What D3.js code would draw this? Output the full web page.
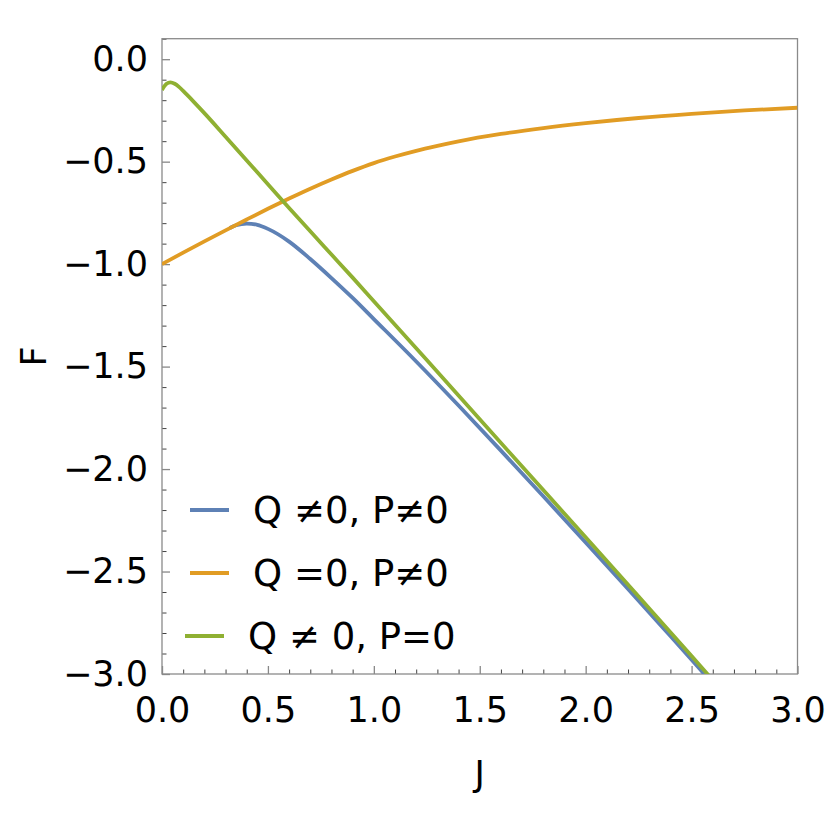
<!DOCTYPE html>
<html>
<head>
<meta charset="utf-8">
<script src="https://cdn.jsdelivr.net/npm/d3@7"></script>
<style>
  body { margin: 0; background: #fff; }
  text { font-family: "DejaVu Sans", sans-serif; fill: #000; }
</style>
</head>
<body>
<div id="chart"></div>
<script>
// values: J on x, F on y
var seriesNames = ["Q \u22600, P\u22600", "Q =0, P\u22600", "Q \u2260 0, P=0"];
var seriesColors = ["#5e81b5", "#e19c24", "#8fb032"];

var blueJ = [0.32, 0.35, 0.4, 0.45, 0.5, 0.6, 0.7, 0.8, 0.9, 1.0, 1.2, 1.4, 1.6, 1.8, 2.0, 2.2, 2.4, 2.6];
var blueF = [-0.824, -0.81, -0.802, -0.808, -0.828, -0.89, -0.975, -1.068, -1.165, -1.268, -1.475, -1.69, -1.91, -2.133, -2.358, -2.585, -2.815, -3.046];

var orangeJ = [0, 0.1, 0.2, 0.3, 0.4, 0.5, 0.6, 0.7, 0.8, 0.9, 1.0, 1.1, 1.2, 1.3, 1.4, 1.6, 1.8, 2.0, 2.25, 2.5, 2.75, 3.0];
var orangeF = [-1.0, -0.944, -0.889, -0.835, -0.782, -0.73, -0.68, -0.632, -0.587, -0.545, -0.507, -0.475, -0.447, -0.423, -0.401, -0.365, -0.336, -0.312, -0.287, -0.267, -0.25, -0.237];

var greenJ = [0, 0.02, 0.04, 0.06, 0.08, 0.1, 0.15, 0.2, 0.3, 0.4, 0.5, 0.6, 0.7, 0.8, 0.9, 1.0, 1.25, 1.5, 1.75, 2.0, 2.25, 2.5, 2.6];
var greenF = [-0.15, -0.121, -0.113, -0.12, -0.135, -0.155, -0.208, -0.263, -0.378, -0.494, -0.61, -0.726, -0.84, -0.953, -1.066, -1.181, -1.468, -1.757, -2.045, -2.333, -2.622, -2.912, -3.03];

var xMajor = [0, 0.5, 1.0, 1.5, 2.0, 2.5, 3.0];
var yMajor = [0, -0.5, -1.0, -1.5, -2.0, -2.5, -3.0];

var W = 830, H = 830;
var box = { left: 162, top: 38.7, right: 797.5, bottom: 674 };

var x = d3.scaleLinear().domain([0, 3]).range([box.left, box.right]);
var y = d3.scaleLinear().domain([-3, 0.1]).range([box.bottom, box.top]);

var svg = d3.select("#chart").append("svg")
	.attr("width", W)
	.attr("height", H);

// minor ticks every 0.1
var xMinor = d3.range(0, 31).map(d => d / 10).filter(d => xMajor.indexOf(d) < 0);
var yMinor = d3.range(-30, 2).map(d => d / 10).filter(d => yMajor.indexOf(d) < 0);

var xMinorAxis = svg.append("g")
	.attr("transform", `translate(0, ${box.bottom})`)
	.call(d3.axisBottom(x).tickValues(xMinor).tickSize(-4.5).tickFormat(""));
var yMinorAxis = svg.append("g")
	.attr("transform", `translate(${box.left}, 0)`)
	.call(d3.axisLeft(y).tickValues(yMinor).tickSize(-4.5).tickFormat(""));

var xAxis = svg.append("g")
	.attr("transform", `translate(0, ${box.bottom})`)
	.call(d3.axisBottom(x).tickValues(xMajor).tickSize(-8).tickPadding(23).tickFormat(d3.format(".1f")));
var yAxis = svg.append("g")
	.attr("transform", `translate(${box.left}, 0)`)
	.call(d3.axisLeft(y).tickValues(yMajor).tickSize(-8).tickPadding(14).tickFormat(d3.format(".1f")));

[xMinorAxis, yMinorAxis, xAxis, yAxis].forEach(g => {
	g.select(".domain").remove();
	g.selectAll("line").attr("stroke", "#444").attr("stroke-width", 1);
});
[xAxis, yAxis].forEach(g => {
	g.selectAll("line").attr("stroke", "#888").attr("stroke-width", 1.3);
	g.selectAll("text").attr("font-size", 35).attr("font-family", "DejaVu Sans, sans-serif");
});

// frame
svg.append("rect")
	.attr("x", box.left).attr("y", box.top)
	.attr("width", box.right - box.left).attr("height", box.bottom - box.top)
	.attr("fill", "none").attr("stroke", "#8a8a8a").attr("stroke-width", 1.3);

// curves, clipped to the frame
svg.append("clipPath").attr("id", "clip")
	.append("rect")
	.attr("x", box.left).attr("y", box.top)
	.attr("width", box.right - box.left).attr("height", box.bottom - box.top);

var line = d3.line()
	.x(d => x(d[0]))
	.y(d => y(d[1]))
	.curve(d3.curveMonotoneX);

var series = [
	d3.zip(blueJ, blueF),
	d3.zip(orangeJ, orangeF),
	d3.zip(greenJ, greenF)
];

var plot = svg.append("g").attr("clip-path", "url(#clip)");
series.forEach((pts, i) => {
	plot.append("path")
		.attr("d", line(pts))
		.attr("fill", "none")
		.attr("stroke", seriesColors[i])
		.attr("stroke-width", 3.8)
		.attr("stroke-linejoin", "round");
});

// legend
var legendY = [510, 573, 636];
var legendX = [190, 190, 185];
var legendTextX = [253, 253, 248];
var legend = svg.append("g").attr("class", "legend");
seriesNames.forEach((name, i) => {
	legend.append("line")
		.attr("x1", legendX[i]).attr("x2", legendX[i] + 39)
		.attr("y1", legendY[i]).attr("y2", legendY[i])
		.attr("stroke", seriesColors[i])
		.attr("stroke-width", 3.8);
	legend.append("text")
		.attr("x", legendTextX[i])
		.attr("y", legendY[i])
		.attr("dy", "0.36em")
		.attr("font-size", 37)
		.text(name);
});

// axis labels
svg.append("text")
	.attr("x", (box.left + box.right) / 2)
	.attr("y", 786)
	.attr("text-anchor", "middle")
	.attr("font-size", 35)
	.text("J");

svg.append("text")
	.attr("transform", `translate(46, ${(box.top + box.bottom) / 2}) rotate(-90)`)
	.attr("text-anchor", "middle")
	.attr("font-size", 35)
	.text("F");
</script>
</body>
</html>
